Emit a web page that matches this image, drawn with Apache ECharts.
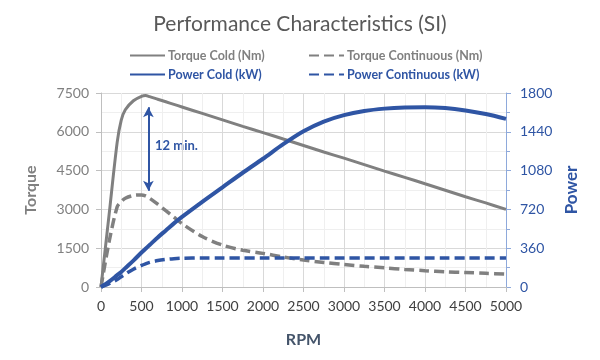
<!DOCTYPE html>
<html>
<head>
<meta charset="utf-8">
<script src="https://cdn.jsdelivr.net/npm/echarts@6/dist/echarts.min.js"></script>
<style>html,body{margin:0;padding:0;background:#fff}#c{width:600px;height:360px}</style>
</head>
<body>
<div id="c"></div>
<script>
const rpm =          [0,  100, 200, 250, 300, 400, 500, 550, 600, 700, 800, 900, 1000,1250,1500,1750,2000,2250,2500,2750,3000,3250,3500,3750,4000,4250,4500,4750,5000];
const torqueCold =   [0, 2800,5600,6450,6850,7200,7370,7400,7360,7260,7160,7060,6960,6710,6460,6210,5970,5720,5470,5220,4980,4730,4480,4240,3990,3740,3490,3250,3000];
const torqueCont =   [0, 1750,3100,3300,3430,3540,3560,3520,3430,3200,2950,2700,2450,1950,1620,1420,1300,1160,1040, 950, 870, 800, 740, 680, 630, 590, 560, 530, 500];
const powerCold =    [0,   50, 110, 140, 175, 245, 320, 355, 390, 460, 525, 590, 650, 790, 925,1060,1190,1325,1445,1535,1595,1633,1655,1666,1668,1660,1638,1605,1560];
const powerCont =    [0,   30,  70,  95, 120, 165, 200, 215, 228, 245, 256, 263, 267, 270, 270, 270, 270, 270, 270, 270, 270, 270, 270, 270, 270, 270, 270, 270, 270];
const torqueTicks = {min: 0, max: 7500, interval: 1500};
const powerTicks = {min: 0, max: 1800, interval: 360};
const rpmTicks = {min: 0, max: 5000, interval: 500};
const arrowRpm = 585, arrowTop = 6950, arrowBottom = 3720;

const GRAY = '#808080', BLUE = '#2f55a4';
const FONT = 'Lato';
const pairs = ys => rpm.map((x, i) => [x, ys[i]]);
const plain = v => String(v);

const chart = echarts.init(document.getElementById('c'));
function leg(name, left, top, color) {
  return {
    data: [{name: name}], left: left, top: top, itemWidth: 35, itemHeight: 12, itemGap: 4,
    itemStyle: {color: 'rgba(0,0,0,0)', borderWidth: 0},
    textStyle: {color: color, fontFamily: FONT, fontWeight: 'bold', fontSize: 12.5, padding: [0,0,0,-2]}
  };
}
chart.setOption({
  animation: false,
  title: {
    text: 'Performance Characteristics (SI)', left: 'center', top: 9,
    textStyle: {color: '#595959', fontFamily: FONT, fontWeight: 'normal', fontSize: 21}
  },
  legend: [
    leg('Torque Cold (Nm)', 124, 44, GRAY),
    leg('Torque Continuous (Nm)', 303, 44, GRAY),
    leg('Power Cold (kW)', 124, 63, BLUE),
    leg('Power Continuous (kW)', 303, 63, BLUE)
  ],
  grid: {left: 101, right: 94, top: 93, bottom: 73, containLabel: false},
  xAxis: {
    type: 'value', min: rpmTicks.min, max: rpmTicks.max, interval: rpmTicks.interval,
    name: 'RPM', nameLocation: 'middle', nameGap: 45,
    nameTextStyle: {color: '#44546a', fontFamily: FONT, fontWeight: 'bold', fontSize: 16},
    axisLine: {lineStyle: {color: '#bfbfbf', width: 1}},
    axisTick: {show: true, length: 5, lineStyle: {color: '#bfbfbf'}},
    axisLabel: {color: '#404040', fontFamily: FONT, fontSize: 14, margin: 12, formatter: plain},
    splitLine: {show: true, lineStyle: {color: '#d9d9d9'}},
    minorSplitLine: {show: true, lineStyle: {color: '#efefef'}},
    minorTick: {show: false, splitNumber: 2}
  },
  yAxis: [{
    type: 'value', min: torqueTicks.min, max: torqueTicks.max, interval: torqueTicks.interval,
    name: 'Torque', nameLocation: 'middle', nameGap: 62,
    nameTextStyle: {color: GRAY, fontFamily: FONT, fontWeight: 'bold', fontSize: 16},
    axisLine: {show: true, lineStyle: {color: '#bfbfbf'}},
    axisTick: {show: true, length: 5, lineStyle: {color: '#bfbfbf'}},
    axisLabel: {color: GRAY, fontFamily: FONT, fontSize: 14, margin: 12, formatter: plain},
    splitLine: {show: true, lineStyle: {color: '#d9d9d9'}},
    minorSplitLine: {show: true, lineStyle: {color: '#efefef'}},
    minorTick: {show: false, splitNumber: 2}
  }, {
    type: 'value', min: powerTicks.min, max: powerTicks.max, interval: powerTicks.interval,
    name: 'Power', nameLocation: 'middle', nameGap: 56,
    nameTextStyle: {color: BLUE, fontFamily: FONT, fontWeight: 'bold', fontSize: 17},
    axisLine: {show: true, lineStyle: {color: '#8ea9db'}},
    axisTick: {show: true, length: 5, lineStyle: {color: '#8ea9db'}},
    minorTick: {show: true, splitNumber: 2, length: 4, lineStyle: {color: '#8ea9db'}},
    axisLabel: {color: BLUE, fontFamily: FONT, fontSize: 14, margin: 14, formatter: plain},
    splitLine: {show: false}
  }],
  series: [{
    name: 'Torque Cold (Nm)', type: 'line', yAxisIndex: 0, data: pairs(torqueCold),
    symbol: 'none', smooth: 0.3, lineStyle: {color: GRAY, width: 3}, itemStyle: {color: GRAY}, z: 3,
    markLine: {
      silent: true, symbol: ['arrow', 'arrow'], symbolSize: [8, 10],
      lineStyle: {color: BLUE, width: 2, type: 'solid'}, label: {show: false},
      data: [[{coord: [arrowRpm, arrowTop]}, {coord: [arrowRpm, arrowBottom]}]]
    }
  }, {
    name: 'Torque Continuous (Nm)', type: 'line', yAxisIndex: 0, data: pairs(torqueCont),
    symbol: 'none', smooth: 0.3, lineStyle: {color: GRAY, width: 3.5, type: [10, 5]}, itemStyle: {color: GRAY}, z: 3
  }, {
    name: 'Power Cold (kW)', type: 'line', yAxisIndex: 1, data: pairs(powerCold),
    symbol: 'none', smooth: 0.3, lineStyle: {color: BLUE, width: 4}, itemStyle: {color: BLUE}, z: 4
  }, {
    name: 'Power Continuous (kW)', type: 'line', yAxisIndex: 1, data: pairs(powerCont),
    symbol: 'none', smooth: 0.3, lineStyle: {color: BLUE, width: 3.5, type: [10, 5]}, itemStyle: {color: BLUE}, z: 4
  }],
  graphic: [{
    type: 'text', left: 155, top: 139,
    style: {text: '12 min.', fill: BLUE, font: 'bold 13px Lato'}
  }]
});
</script>
</body>
</html>
